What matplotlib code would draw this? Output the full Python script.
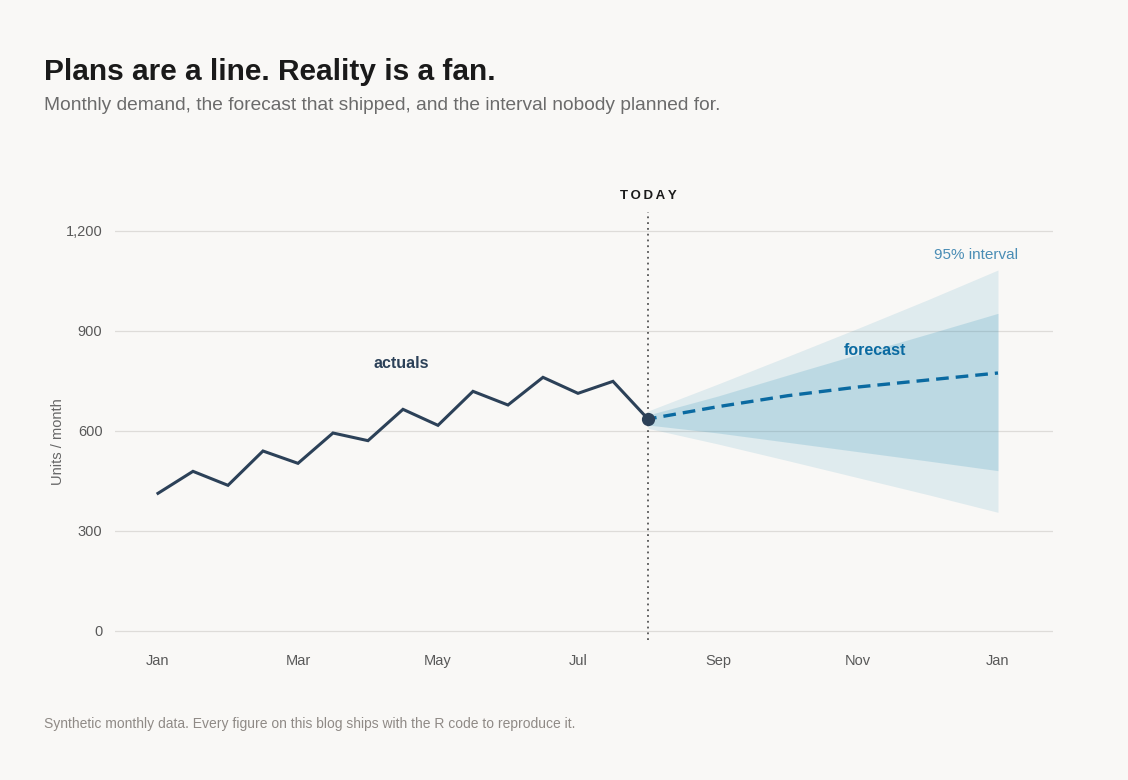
import matplotlib.pyplot as plt

plt.rcParams['font.family'] = ['Liberation Sans', 'DejaVu Sans']

# actuals, every half month from Jan (month 0) to Aug (month 7)
actual_month = [0, 0.5, 1, 1.5, 2, 2.5, 3, 3.5, 4, 4.5, 5, 5.5, 6, 6.5, 7]
actual_units = [413, 479, 437, 540, 503, 594, 571, 665, 617, 719, 678, 761, 713, 749, 636]

# forecast from today to next Jan
fc_month = [7, 8, 9, 10, 11, 12]
fc_units = [636, 673, 706, 732, 753, 774]
inner_lo = [618, 594, 566, 538, 510, 481]
inner_hi = [648, 705, 768, 830, 891, 953]
outer_lo = [608, 561, 511, 460, 409, 356]
outer_hi = [660, 741, 824, 908, 994, 1083]

today = 7
month_ticks = [0, 2, 4, 6, 8, 10, 12]
month_labels = ['Jan', 'Mar', 'May', 'Jul', 'Sep', 'Nov', 'Jan']
y_ticks = [0, 300, 600, 900, 1200]

bg = '#f9f8f6'
navy = '#2c4158'
blue = '#0a6aa1'
fan = '#3494ba'

fig = plt.figure(figsize=(11.28, 7.8), dpi=100, facecolor=bg)
ax = fig.add_axes([115 / 1128, 140 / 780, 938 / 1128, 428 / 780])
ax.set_facecolor(bg)

ax.fill_between(fc_month, outer_lo, outer_hi, color=fan, alpha=0.13, lw=0, zorder=2)
ax.fill_between(fc_month, inner_lo, inner_hi, color=fan, alpha=0.2, lw=0, zorder=2)

ax.axvline(today, color='#555555', lw=1.3, ls=(0, (1, 2.2)), zorder=3)

ax.plot(actual_month, actual_units, color=navy, lw=2.2, solid_joinstyle='miter', zorder=4)
ax.plot(fc_month, fc_units, color=blue, lw=2.4, ls=(1.2, (3.8, 2.1)), zorder=4)
ax.plot([actual_month[-1]], [actual_units[-1]], 'o', color=navy, ms=8.5, zorder=5)

ax.set_xlim(-0.614, 12.786)
ax.set_ylim(-27, 1257)
ax.set_yticks(y_ticks)
ax.set_yticklabels([f'{v:,}' for v in y_ticks])
ax.set_xticks(month_ticks)
ax.set_xticklabels(month_labels)
ax.tick_params(axis='both', length=0, labelsize=10.5, labelcolor='#595959')
ax.tick_params(axis='y', pad=9)
ax.tick_params(axis='x', pad=10)
ax.grid(axis='y', color='#dedcd9', lw=0.9, zorder=0)
ax.set_axisbelow(True)
for s in ax.spines.values():
    s.set_visible(False)

ax.set_ylabel('Units / month', fontsize=10.5, color='#666666')
ax.yaxis.set_label_coords(-0.0528, 0.463)

ax.text(3.47, 801, 'actuals', color=navy, fontsize=11.5, fontweight='bold',
        ha='center', va='center')
ax.text(10.24, 840, 'forecast', color=blue, fontsize=11.5, fontweight='bold',
        ha='center', va='center')
ax.text(11.68, 1128, '95% interval', color='#4a8db5', fontsize=11,
        ha='center', va='center')
ax.text(today, 1306, 'T\u2009O\u2009D\u2009A\u2009Y', color='#1a1a1a', fontsize=9.5,
        fontweight='bold', ha='center', va='center', clip_on=False)

fig.text(44 / 1128, 1 - 80 / 780, 'Plans are a line. Reality is a fan.',
         fontsize=21.5, fontweight='bold', color='#1a1a1a', va='baseline')
fig.text(44 / 1128, 1 - 110 / 780,
         'Monthly demand, the forecast that shipped, and the interval nobody planned for.',
         fontsize=13.8, color='#6b6b6b', va='baseline')
fig.text(44 / 1128, 1 - 728 / 780,
         'Synthetic monthly data. Every figure on this blog ships with the R code to reproduce it.',
         fontsize=10, color='#8f8a86', va='baseline')

fig.savefig('out.png', dpi=100, facecolor=bg)
